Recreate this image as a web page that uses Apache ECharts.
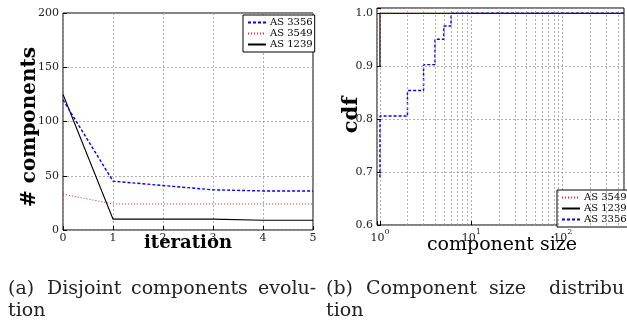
<!DOCTYPE html>
<html><head><meta charset="utf-8">
<script src="https://cdn.jsdelivr.net/npm/echarts@6/dist/echarts.min.js"></script>
<style>html,body{margin:0;padding:0;background:#fff;overflow:hidden}#c{width:627px;height:322px}</style>
</head><body><div id="c"></div>
<script>
// ---- left panel: components per iteration ----
const iterations = [0, 1, 2, 3, 4, 5];
const as3356Components = [120, 45, 41, 37, 36, 36];
const as3549Components = [33, 24, 24, 24, 24, 24];
const as1239Components = [125, 10, 10, 10, 9, 9];
const leftYTicks = [0, 50, 100, 150, 200];

// ---- right panel: component size CDF ----
const as3356Sizes = [1, 1, 2, 3, 4, 5, 6, 468];
const as3356Cdf = [0.69, 0.806, 0.854, 0.903, 0.951, 0.976, 1.0, 1.0];
const as3549Sizes = [1, 1, 468];
const as3549Cdf = [0.95, 1.0, 1.0];
const as1239Sizes = [1, 1, 468];
const as1239Cdf = [0.9, 1.0, 1.0];
const rightYTicks = [0.6, 0.7, 0.8, 0.9, 1.0];
const minorSizeGrid = [2,3,4,5,6,7,8,9,20,30,40,50,60,70,80,90,200,300,400];

// ---- captions (words and their left x) ----
const captionA = [['(a)', 8], ['Disjoint', 47], ['components', 131], ['evolu-', 258]];
const captionB = [['(b)', 326], ['Component', 366], ['size', 489], ['distribu', 549]];

const serif = '"DejaVu Serif", "Liberation Serif", serif';
const gridLine = { color: '#9a9a9a', type: [2, 2], width: 0.8 };
const blue = { color: '#0000ff', type: [3, 2], width: 1.4 };
const red = { color: '#ff2020', type: [1, 2], width: 1 };
const black = { color: '#000000', type: 'solid', width: 1.2 };

function pairs(xs, ys) { return xs.map((x, i) => [x, ys[i]]); }

const chart = echarts.init(document.getElementById('c'), null, { renderer: 'canvas' });

const tickLabel = { fontFamily: serif, fontSize: 11, color: '#222' };
const legendBase = { orient: 'vertical', itemGap: 0, itemWidth: 18, itemHeight: 8,
  itemStyle: { opacity: 0 },
  padding: [2, 2, 2, 4], borderColor: '#000', borderWidth: 1, backgroundColor: '#fff', borderRadius: 0,
  textStyle: { fontFamily: serif, fontSize: 10, color: '#000', lineHeight: 11, padding: [0, 0, 0, -1] },
  selectedMode: false };

const capFont = '19px ' + serif;
const captionGraphics = [];
captionA.concat(captionB).forEach(w => captionGraphics.push({ type: 'text', x: w[1], y: 289, style: { text: w[0], font: capFont, fill: '#222', verticalAlign: 'middle' } }));
captionGraphics.push({ type: 'text', x: 8, y: 311, style: { text: 'tion', font: capFont, fill: '#222', verticalAlign: 'middle' } });
captionGraphics.push({ type: 'text', x: 326, y: 311, style: { text: 'tion', font: capFont, fill: '#222', verticalAlign: 'middle' } });

chart.setOption({
  animation: false,
  backgroundColor: '#fff',
  grid: [
    { left: 63, top: 13, width: 250, height: 217, show: true, borderColor: '#000', borderWidth: 1, backgroundColor: 'transparent' },
    { left: 377, top: 8, width: 250, height: 217, show: true, borderColor: '#000', borderWidth: 1, backgroundColor: 'transparent' }
  ],
  xAxis: [
    { type: 'value', gridIndex: 0, min: iterations[0], max: iterations[iterations.length - 1], interval: 1,
      axisLine: { show: false }, axisTick: { inside: true, length: 4, lineStyle: { color: '#000' } },
      axisLabel: Object.assign({ margin: 3 }, tickLabel),
      splitLine: { show: true, lineStyle: gridLine } },
    { type: 'log', gridIndex: 1, logBase: 10, min: 0.928, max: 468,
      axisLine: { show: false }, axisTick: { inside: true, length: 4, lineStyle: { color: '#000' } },
      axisLabel: { margin: 3, color: '#222', fontFamily: serif,
        formatter: function (v) {
          const l = Math.log10(v), e = Math.round(l);
          if (Math.abs(l - e) > 1e-6) return '';
          return '{b|10}{s|' + e + '}';
        },
        rich: { b: { fontFamily: serif, fontSize: 11, color: '#222', lineHeight: 16, verticalAlign: 'bottom' },
                s: { fontFamily: serif, fontSize: 8, color: '#222', lineHeight: 10, verticalAlign: 'top' } } },
      splitLine: { show: true, lineStyle: gridLine } }
  ],
  yAxis: [
    { type: 'value', gridIndex: 0, min: leftYTicks[0], max: leftYTicks[leftYTicks.length - 1], interval: 50,
      axisLine: { show: false }, axisTick: { inside: true, length: 4, lineStyle: { color: '#000' } },
      axisLabel: Object.assign({ margin: 4 }, tickLabel),
      splitLine: { show: true, lineStyle: gridLine } },
    { type: 'value', gridIndex: 1, min: rightYTicks[0], max: 1.01, interval: 0.1,
      axisLine: { show: false }, axisTick: { inside: true, length: 4, lineStyle: { color: '#000' } },
      axisLabel: Object.assign({ margin: 4, formatter: function (v) {
          if (Math.abs(v * 10 - Math.round(v * 10)) > 1e-6) return '';
          return v.toFixed(1);
        } }, tickLabel),
      splitLine: { show: true, lineStyle: gridLine } }
  ],
  legend: [
    Object.assign({ left: 243, top: 15, data: ['AS 3356', 'AS 3549', 'AS 1239'] }, legendBase),
    Object.assign({ left: 557, top: 190, data: ['AS 3549', 'AS 1239', 'AS 3356'] }, legendBase)
  ],
  series: [
    { name: 'AS 1239', type: 'line', xAxisIndex: 0, yAxisIndex: 0, symbol: 'none', lineStyle: black, itemStyle: { color: '#000' },
      data: pairs(iterations, as1239Components), z: 3 },
    { name: 'AS 3549', type: 'line', xAxisIndex: 0, yAxisIndex: 0, symbol: 'none', lineStyle: red, itemStyle: { color: red.color },
      data: pairs(iterations, as3549Components), z: 3 },
    { name: 'AS 3356', type: 'line', xAxisIndex: 0, yAxisIndex: 0, symbol: 'none', lineStyle: blue, itemStyle: { color: blue.color },
      data: pairs(iterations, as3356Components), z: 3 },
    { name: 'minor grid', type: 'line', xAxisIndex: 1, yAxisIndex: 1, symbol: 'none', silent: true, z: 1,
      lineStyle: { opacity: 0 }, data: pairs(as1239Sizes, as1239Cdf),
      markLine: { silent: true, symbol: ['none', 'none'], label: { show: false },
        lineStyle: gridLine, data: minorSizeGrid.map(v => ({ xAxis: v })) } },
    { name: 'AS 1239', type: 'line', xAxisIndex: 1, yAxisIndex: 1, symbol: 'none', step: 'end', lineStyle: black, itemStyle: { color: '#000' },
      data: pairs(as1239Sizes, as1239Cdf), z: 3 },
    { name: 'AS 3549', type: 'line', xAxisIndex: 1, yAxisIndex: 1, symbol: 'none', step: 'end', lineStyle: red, itemStyle: { color: red.color },
      data: pairs(as3549Sizes, as3549Cdf), z: 3 },
    { name: 'AS 3356', type: 'line', xAxisIndex: 1, yAxisIndex: 1, symbol: 'none', step: 'end', lineStyle: blue, itemStyle: { color: blue.color },
      data: pairs(as3356Sizes, as3356Cdf), z: 3 }
  ],
  graphic: [
    { type: 'text', x: 30, y: 127, rotation: Math.PI / 2, style: { text: '# components', font: 'bold 20px ' + serif, fill: '#000', align: 'center', verticalAlign: 'middle' } },
    { type: 'text', x: 188, y: 243, style: { text: 'iteration', font: 'bold 18px ' + serif, fill: '#000', align: 'center', verticalAlign: 'middle' } },
    { type: 'text', x: 352, y: 115, rotation: Math.PI / 2, style: { text: 'cdf', font: 'bold 21px ' + serif, fill: '#000', align: 'center', verticalAlign: 'middle' } },
    { type: 'text', x: 502, y: 245, style: { text: 'component size', font: '19px ' + serif, fill: '#000', align: 'center', verticalAlign: 'middle' } }
  ].concat(captionGraphics)
});
</script>
</body></html>
